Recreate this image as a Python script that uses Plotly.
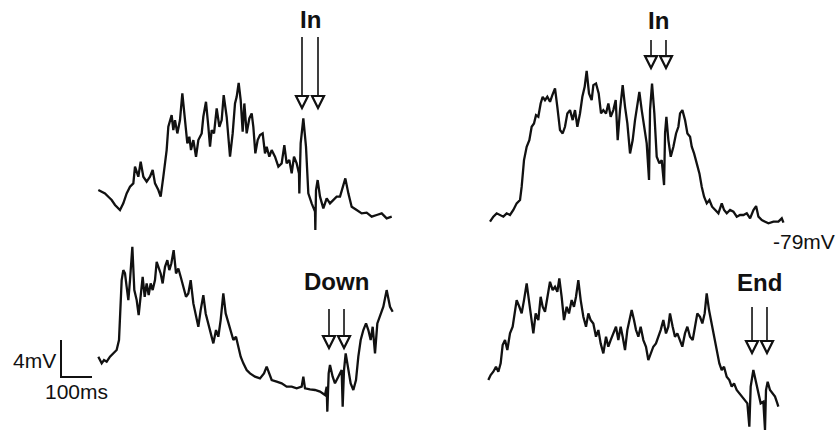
import plotly.graph_objects as go

# ---- recordings: time (ms) and membrane potential (mV) ----
tl_t = [0, 10.8, 21.5, 32.3, 43.0, 53.8, 69.9, 80.6, 91.4, 102.2, 112.9, 118.3, 129.0, 136.6,
        145.2, 155.9, 166.7, 175.3, 182.8, 193.6, 201.1, 209.7, 220.4, 225.8, 231.2, 236.5,
        241.9, 247.3, 254.8, 263.4, 271.0, 279.6, 287.1, 293.6, 298.9, 306.5, 315.1, 322.6,
        333.4, 338.7, 347.3, 354.9, 360.3, 365.6, 373.2, 381.8, 390.4, 397.9, 404.4, 414.0,
        424.8, 433.4, 440.9, 446.3, 452.7, 459.2, 465.6, 471.0, 478.5, 487.1, 494.7, 500.0,
        506.5, 514.0, 521.5, 530.1, 537.6, 543.0, 551.6, 559.2, 569.9, 580.7, 591.4, 600.0,
        607.5, 616.1, 623.7, 631.2, 639.8, 647.3, 648.4, 652.7, 661.3, 669.9, 677.4, 688.2,
        699.0, 700.0, 702.2, 707.5, 715.1, 725.8, 736.6, 747.3, 758.1, 768.8, 779.6, 790.3,
        796.8, 806.5, 817.2, 833.4, 849.5, 865.6, 881.8, 897.9, 914.1, 930.2, 946.4]
tl_v = [-76.12, -76.30, -76.48, -76.84, -77.20, -77.74, -78.28, -77.56, -76.48, -75.76, -75.40,
        -73.60, -74.68, -73.06, -74.68, -75.22, -74.68, -73.96, -75.40, -76.12, -76.84, -74.68,
        -71.80, -69.28, -68.56, -68.02, -69.64, -68.56, -70.00, -68.56, -65.68, -68.56, -71.08,
        -70.36, -71.80, -70.72, -72.52, -70.72, -70.00, -68.20, -66.58, -69.28, -71.44, -69.64,
        -70.00, -67.30, -69.28, -68.56, -65.86, -68.20, -72.52, -70.00, -66.76, -66.04, -64.53,
        -66.40, -69.82, -66.76, -70.00, -68.38, -67.84, -69.28, -72.16, -70.72, -70.18, -70.00,
        -72.16, -71.44, -72.52, -71.80, -72.52, -73.60, -73.24, -71.26, -73.24, -72.88, -74.32,
        -72.52, -73.24, -74.32, -76.48, -71.08, -68.38, -71.44, -76.48, -77.56, -78.46, -80.44,
        -76.12, -75.04, -76.84, -78.10, -77.02, -77.56, -77.20, -76.84, -76.84, -75.76, -74.86,
        -76.48, -77.92, -78.28, -78.64, -78.57, -79.00, -78.82, -78.64, -79.18, -79.00]

tr_t = [0, 10.8, 21.5, 32.3, 43.0, 53.8, 64.5, 75.3, 86.0, 96.8, 102.2, 109.7, 118.3, 126.9,
        134.4, 141.9, 148.4, 155.9, 163.4, 169.9, 177.4, 184.9, 193.6, 201.1, 209.7, 217.2,
        225.8, 234.4, 241.9, 249.5, 258.1, 266.7, 274.2, 281.8, 290.3, 297.9, 305.4, 311.8,
        319.4, 328.0, 333.4, 342.0, 350.6, 358.1, 365.6, 374.2, 381.8, 389.3, 397.9, 405.5,
        411.9, 419.4, 428.0, 435.6, 443.1, 451.7, 460.3, 467.8, 475.4, 481.8, 489.4, 496.9,
        505.5, 513.0, 516.3, 522.7, 530.2, 537.8, 546.4, 553.9, 561.5, 564.7, 569.0, 575.4,
        583.0, 591.6, 600.2, 607.7, 613.1, 620.6, 629.2, 636.8, 645.4, 650.8, 658.3, 666.9,
        675.5, 683.0, 690.6, 699.2, 707.8, 716.4, 726.1, 736.8, 747.6, 755.1, 763.7, 774.5,
        785.2, 796.0, 806.7, 817.5, 828.3, 839.0, 849.8, 858.4, 865.9, 876.7, 887.4, 898.2,
        914.3, 930.4, 941.2, 946.6]
tr_v = [-79.00, -78.46, -78.10, -78.28, -78.46, -78.10, -78.28, -77.74, -77.02, -76.66, -75.22,
        -72.34, -70.90, -70.18, -68.74, -68.38, -67.48, -67.66, -66.22, -65.50, -65.86, -65.50,
        -66.04, -65.32, -64.60, -66.58, -69.10, -69.46, -68.74, -67.30, -66.94, -68.02, -66.94,
        -68.74, -67.30, -65.50, -64.42, -62.69, -65.14, -65.86, -64.24, -64.06, -65.14, -67.30,
        -66.94, -67.30, -66.22, -67.66, -66.94, -65.86, -70.18, -66.94, -64.24, -66.58, -68.38,
        -71.62, -70.18, -68.02, -66.22, -64.96, -66.94, -68.74, -70.54, -74.50, -66.94, -64.06,
        -67.30, -71.98, -72.70, -72.34, -75.04, -69.46, -67.66, -70.18, -71.98, -70.90, -69.46,
        -68.74, -67.30, -66.94, -68.02, -69.46, -69.82, -70.90, -71.62, -72.70, -73.78, -75.22,
        -76.30, -77.02, -76.66, -77.38, -77.74, -78.10, -77.02, -77.74, -78.10, -77.74, -77.92,
        -78.46, -78.28, -78.28, -78.10, -78.64, -77.74, -77.31, -78.46, -78.82, -79.00, -79.18,
        -79.00, -79.00, -78.64, -79.11]

bl_t = [0, 10.8, 18.3, 26.9, 37.6, 48.4, 59.1, 66.7, 69.9, 75.3, 80.6, 86.0, 91.4, 96.8, 102.2,
        109.7, 116.1, 123.7, 130.1, 136.6, 143.0, 149.5, 155.9, 162.4, 168.8, 175.3, 182.8,
        188.2, 194.6, 201.1, 207.5, 215.1, 222.6, 229.0, 235.5, 243.0, 250.6, 258.1, 265.6,
        274.2, 282.8, 290.3, 297.9, 306.5, 315.1, 322.6, 330.1, 338.7, 346.3, 354.9, 362.4,
        371.0, 379.6, 387.1, 394.6, 403.2, 410.8, 419.4, 426.9, 435.5, 444.1, 451.6, 459.2,
        467.8, 478.5, 489.3, 505.4, 521.5, 534.4, 543.0, 551.6, 559.2, 575.3, 591.4, 607.5,
        623.7, 639.8, 655.9, 661.3, 666.7, 682.8, 698.9, 715.1, 725.8, 731.2, 736.6, 738.7,
        743.0, 747.3, 755.9, 763.4, 774.2, 784.9, 788.2, 792.5, 797.9, 806.5, 814.0, 822.6,
        831.2, 838.7, 846.3, 854.9, 863.5, 871.0, 878.5, 885.0, 892.5, 900.0, 908.6, 919.4,
        930.1, 940.9, 949.5]
bl_v = [-75.04, -75.76, -75.40, -75.58, -75.04, -74.68, -74.32, -73.24, -70.72, -66.76, -65.68,
        -66.04, -67.48, -68.92, -66.76, -63.16, -67.84, -68.92, -70.54, -68.56, -66.40, -68.56,
        -67.12, -68.38, -67.12, -67.84, -66.76, -64.78, -65.32, -66.04, -67.12, -65.32, -64.60,
        -65.68, -64.96, -63.52, -66.04, -65.50, -66.40, -67.48, -68.56, -68.20, -66.76, -69.28,
        -70.72, -71.80, -70.00, -68.38, -70.36, -71.44, -72.52, -73.60, -72.16, -72.88, -71.08,
        -68.20, -70.36, -71.44, -72.16, -73.24, -72.88, -73.96, -75.04, -75.76, -76.48, -76.84,
        -77.20, -77.38, -76.84, -76.12, -76.84, -77.56, -77.74, -77.92, -78.28, -78.28, -78.46,
        -78.28, -77.20, -78.46, -78.57, -78.64, -78.82, -79.00, -79.18, -78.28, -80.98, -76.84,
        -75.94, -77.20, -77.92, -77.20, -76.48, -80.44, -76.48, -74.68, -76.48, -77.92, -78.64,
        -77.56, -75.04, -73.24, -72.16, -71.44, -72.16, -73.24, -71.80, -74.68, -71.44, -70.72,
        -69.64, -67.84, -69.64, -70.18]

br_t = [0, 7.5, 16.1, 24.7, 32.3, 39.8, 46.2, 53.8, 61.3, 69.9, 78.5, 86.0, 91.4, 100.0, 107.5,
        115.1, 123.7, 132.3, 139.8, 145.2, 152.7, 161.3, 168.8, 175.3, 182.8, 190.3, 198.9,
        207.5, 215.1, 222.6, 229.0, 236.5, 244.1, 252.7, 260.2, 268.8, 276.3, 282.8, 290.3,
        297.9, 306.5, 315.1, 322.6, 330.1, 338.7, 347.3, 354.9, 362.4, 371.0, 379.6, 387.1,
        394.6, 403.2, 411.8, 419.4, 426.9, 433.4, 440.9, 448.4, 454.9, 462.4, 469.9, 476.4,
        483.9, 491.4, 500.1, 508.6, 516.1, 523.7, 532.2, 540.8, 548.4, 555.9, 564.5, 573.1,
        580.6, 586.0, 594.6, 602.1, 609.7, 618.3, 625.8, 634.4, 642.0, 650.6, 659.2, 666.7,
        674.2, 682.8, 690.4, 697.9, 704.4, 711.9, 720.5, 729.1, 736.6, 745.2, 752.8, 760.3,
        768.9, 777.5, 785.0, 792.6, 801.1, 809.7, 820.5, 828.0, 835.6, 842.0, 846.3, 854.9,
        863.5, 871.0, 878.5, 887.1, 892.5, 895.7, 901.1, 908.6, 917.2, 924.8, 932.3, 935.5]
br_v = [-76.48, -75.94, -75.58, -75.04, -75.58, -74.68, -72.70, -72.16, -73.24, -71.44, -70.72,
        -69.28, -67.84, -68.56, -69.28, -67.84, -66.04, -68.20, -70.36, -71.44, -69.28, -70.00,
        -67.48, -68.56, -69.10, -67.48, -65.86, -66.76, -66.40, -66.94, -65.50, -67.48, -70.00,
        -68.56, -69.28, -67.84, -68.56, -67.48, -65.68, -67.84, -69.64, -70.72, -69.28, -70.00,
        -70.36, -71.80, -71.08, -72.52, -73.60, -71.80, -72.88, -72.16, -71.44, -70.72, -72.16,
        -70.72, -71.80, -73.24, -71.08, -70.00, -68.92, -70.00, -71.08, -71.80, -70.72, -72.16,
        -72.88, -74.32, -73.60, -72.88, -72.52, -71.80, -71.08, -70.00, -71.44, -70.72, -69.28,
        -70.72, -71.80, -71.44, -72.16, -72.88, -71.44, -70.72, -71.80, -72.16, -70.72, -69.28,
        -69.64, -70.36, -69.28, -67.12, -68.92, -70.36, -71.80, -73.24, -74.68, -75.40, -75.04,
        -76.12, -76.48, -77.20, -76.84, -77.56, -77.92, -78.28, -78.64, -79.00, -81.52, -77.20,
        -75.40, -76.84, -77.92, -79.00, -78.82, -81.88, -77.56, -76.66, -77.56, -77.92, -78.28,
        -79.00, -79.36]

# stimulus event times (ms) and their labels
tl_events = [657.0, 708.6]
tr_events = [519.4, 567.7]
bl_events = [744.1, 792.5]
br_events = [850.6, 898.9]
event_labels = ["In", "In", "Down", "End"]

# ---- page geometry ----
W, H = 838, 431
MS_PER_PX = 100 / 31
MV_PER_PX = 4 / 37
INK = "#111111"
FONT = "Liberation Sans, Arial, Helvetica, sans-serif"

# per panel: data, screen origin of t=0 (px), screen row of reference potential,
# arrow top / tip potentials, label potential
panels = [
    dict(t=tl_t, v=tl_v, ev=tl_events, px0=98.33, py0=216.67, vref=-79.0,
         v_top=-59.58, v_tip=-67.25, v_lab=-57.63),
    dict(t=tr_t, v=tr_v, ev=tr_events, px0=490.0, py0=221.67, vref=-79.0,
         v_top=-59.36, v_tip=-62.39, v_lab=-57.25),
    dict(t=bl_t, v=bl_v, ev=bl_events, px0=98.33, py0=393.33, vref=-79.0,
         v_top=-69.88, v_tip=-74.10, v_lab=-66.86),
    dict(t=br_t, v=br_v, ev=br_events, px0=488.33, py0=403.33, vref=-79.0,
         v_top=-68.59, v_tip=-73.56, v_lab=-65.94),
]

fig = go.Figure()
layout = dict(width=W, height=H, margin=dict(l=0, r=0, t=0, b=0),
              paper_bgcolor="white", plot_bgcolor="rgba(0,0,0,0)",
              showlegend=False, shapes=[], annotations=[])

for i, p in enumerate(panels, start=1):
    sx = "" if i == 1 else str(i)
    xa, ya = "x" + sx, "y" + sx
    xr = [-p["px0"] * MS_PER_PX, (W - p["px0"]) * MS_PER_PX]
    yr = [p["vref"] - (H - p["py0"]) * MV_PER_PX, p["vref"] + p["py0"] * MV_PER_PX]
    xax = dict(range=xr, visible=False, domain=[0, 1], anchor=ya, fixedrange=True)
    yax = dict(range=yr, visible=False, domain=[0, 1], anchor=xa, fixedrange=True)
    if i > 1:
        xax["overlaying"] = "x"
        yax["overlaying"] = "y"
    layout["xaxis" + sx] = xax
    layout["yaxis" + sx] = yax

    fig.add_trace(go.Scatter(x=p["t"], y=p["v"], mode="lines", xaxis=xa, yaxis=ya,
                             line=dict(color=INK, width=2.3), hoverinfo="skip"))

    # stimulus arrows: stem plus open downward triangle
    for te in p["ev"]:
        layout["shapes"].append(dict(type="line", xref=xa, yref=ya, x0=te, x1=te,
                                     y0=p["v_top"], y1=p["v_tip"],
                                     line=dict(color="#2a2a2a", width=1.8)))
        layout["shapes"].append(dict(type="path", xref=xa, yref=ya,
                                     xsizemode="pixel", ysizemode="pixel",
                                     xanchor=te, yanchor=p["v_tip"],
                                     path="M-6,12 L6,12 L0,0 Z",
                                     fillcolor="white", line=dict(color=INK, width=2.2)))
    layout["annotations"].append(dict(
        text="<b>%s</b>" % event_labels[i - 1], xref=xa, yref=ya,
        x=sum(p["ev"]) / len(p["ev"]), y=p["v_lab"], showarrow=False,
        xanchor="center", yanchor="middle",
        font=dict(family=FONT, size=24, color=INK)))

# resting potential label next to the upper-right recording
layout["annotations"].append(dict(text="-79mV", xref="x2", yref="y2", x=1119.0, y=-81.14,
                                  showarrow=False, xanchor="right", yanchor="middle",
                                  font=dict(family=FONT, size=21, color=INK)))

# scale bar: 4 mV by 100 ms, placed by the lower-left recording
sb_t, sb_v = -120.4, -77.23
layout["shapes"].append(dict(type="path", xref="x3", yref="y3",
                             path="M%.2f,%.2f L%.2f,%.2f L%.2f,%.2f" % (
                                 sb_t, sb_v + 4, sb_t, sb_v, sb_t + 100, sb_v),
                             line=dict(color=INK, width=2)))
layout["annotations"].append(dict(text="4mV", xref="x3", yref="y3", x=-129.0, y=-75.45,
                                  showarrow=False, xanchor="right", yanchor="middle",
                                  font=dict(family=FONT, size=21, color=INK)))
layout["annotations"].append(dict(text="100ms", xref="x3", yref="y3", x=sb_t + 50, y=-78.80,
                                  showarrow=False, xanchor="center", yanchor="middle",
                                  font=dict(family=FONT, size=21, color=INK)))

fig.update_layout(**layout)
fig.write_html("out.html")
